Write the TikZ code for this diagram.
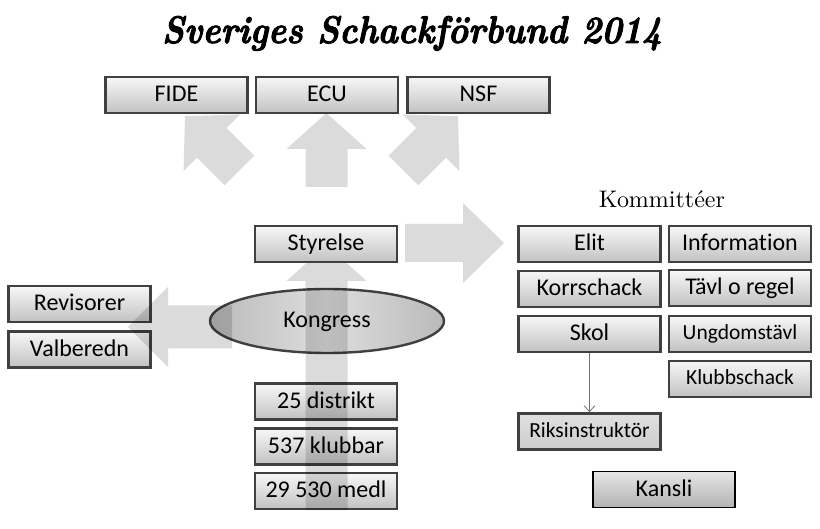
\documentclass[tikz,border=0pt]{standalone}
\usepackage{fontspec}
\usepackage{graphicx}
\usetikzlibrary{arrows.meta,shapes.geometric}
\newfontfamily\boxfont[Ligatures=NoCommon]{Carlito}
\newfontfamily\titlefont[FakeBold=2.5]{Latin Modern Roman}
% tip, angle, total length, head length, head half width, shaft half width
\newcommand{\fatarrow}[6]{\fill[fatarrowstyle, shift={#1}, rotate=#2] (0,0) -- (-#4,#5) -- (-#4,#6) -- (-#3,#6) -- (-#3,-#6) -- (-#4,-#6) -- (-#4,-#5) -- cycle;}
\begin{document}
\begin{tikzpicture}[x=1pt,y=-1pt,
  orgbox/.style={draw=black!75, line width=2.6pt, top color=black!3, bottom color=black!24,
    minimum width=142pt, minimum height=36pt, inner sep=0pt, text height=15.5pt, text depth=2pt,
    font=\boxfont\fontsize{24}{28}\selectfont},
  smallbox/.style={orgbox, text height=14pt, font=\boxfont\fontsize{21.5}{25}\selectfont},
  riksbox/.style={smallbox, top color=black!12, bottom color=black!20},
  kanslibox/.style={orgbox, draw=black, line width=1.2pt, top color=black!10, bottom color=black!30},
  kongstyle/.style={ellipse, draw=black!75, line width=2.4pt, left color=black!27, right color=black!27, middle color=black!13,
    minimum width=234pt, minimum height=64pt, inner sep=0pt, text height=15.5pt, text depth=2pt,
    font=\boxfont\fontsize{24}{28}\selectfont},
  fatarrowstyle/.style={fill=black, fill opacity=0.14},
  thinarrow/.style={draw=black!55, line width=0.8pt, -{Straight Barb[length=6pt,width=11pt]}}
]
\useasboundingbox (0,0) rectangle (820,529);

% title
\node[anchor=base, inner sep=0pt] (title) at (412,43) {\resizebox{500pt}{27pt}{\titlefont\bfseries\itshape Sveriges Schackförbund 2014}};

% upper arrows (under the boxes)
\fatarrow{(185,116)}{135}{77}{38}{40}{21}
\fatarrow{(326.5,113)}{90}{74}{36}{40}{21}
\fatarrow{(458,116)}{45}{77}{38}{40}{21}

\node[orgbox] (fide) at (176.5,95) {FIDE};
\node[orgbox] (ecu) at (327,95) {ECU};
\node[orgbox] (nsf) at (478.5,95) {NSF};

% Kongress and lower left / bottom
\node[kongstyle] (kong) at (327,321) {Kongress};
\node[orgbox] (rev) at (79.5,304) {Revisorer};
\node[orgbox] (val) at (79.5,349.5) {Valberedn};
\node[orgbox] (dist) at (326,401.5) {25 distrikt};
\node[orgbox] (klub) at (326,446.5) {537 klubbar};
\node[orgbox] (medl) at (326,491) {29 530 medl};

\fatarrow{(128,327)}{180}{104}{40}{40}{21.5}
\fatarrow{(326.5,245)}{90}{265}{36}{40}{21}

\node[orgbox] (styr) at (326,244) {Styrelse};

\fatarrow{(504,243)}{0}{99}{41}{40}{19}

% committees
\node[anchor=base, inner sep=0pt] (komm) at (662,208) {\scalebox{2.4}{\fontsize{10}{12}\selectfont Kommittéer}};
\node[orgbox] (elit) at (589.5,244) {Elit};
\node[orgbox] (info) at (740,244) {Information};
\node[orgbox] (korr) at (589.5,289) {Korrschack};
\node[orgbox] (tavl) at (740,288) {Tävl o regel};
\node[orgbox] (skol) at (589.5,334) {Skol};
\node[smallbox] (ungd) at (740,334) {Ungdomstävl};
\node[smallbox] (klubbs) at (740,379) {Klubbschack};
\node[riksbox] (riks) at (589.5,431.5) {Riksinstruktör};
\node[kanslibox] (kansli) at (664,489.5) {Kansli};

\draw[thinarrow] (skol) -- (riks);
\end{tikzpicture}
\end{document}
